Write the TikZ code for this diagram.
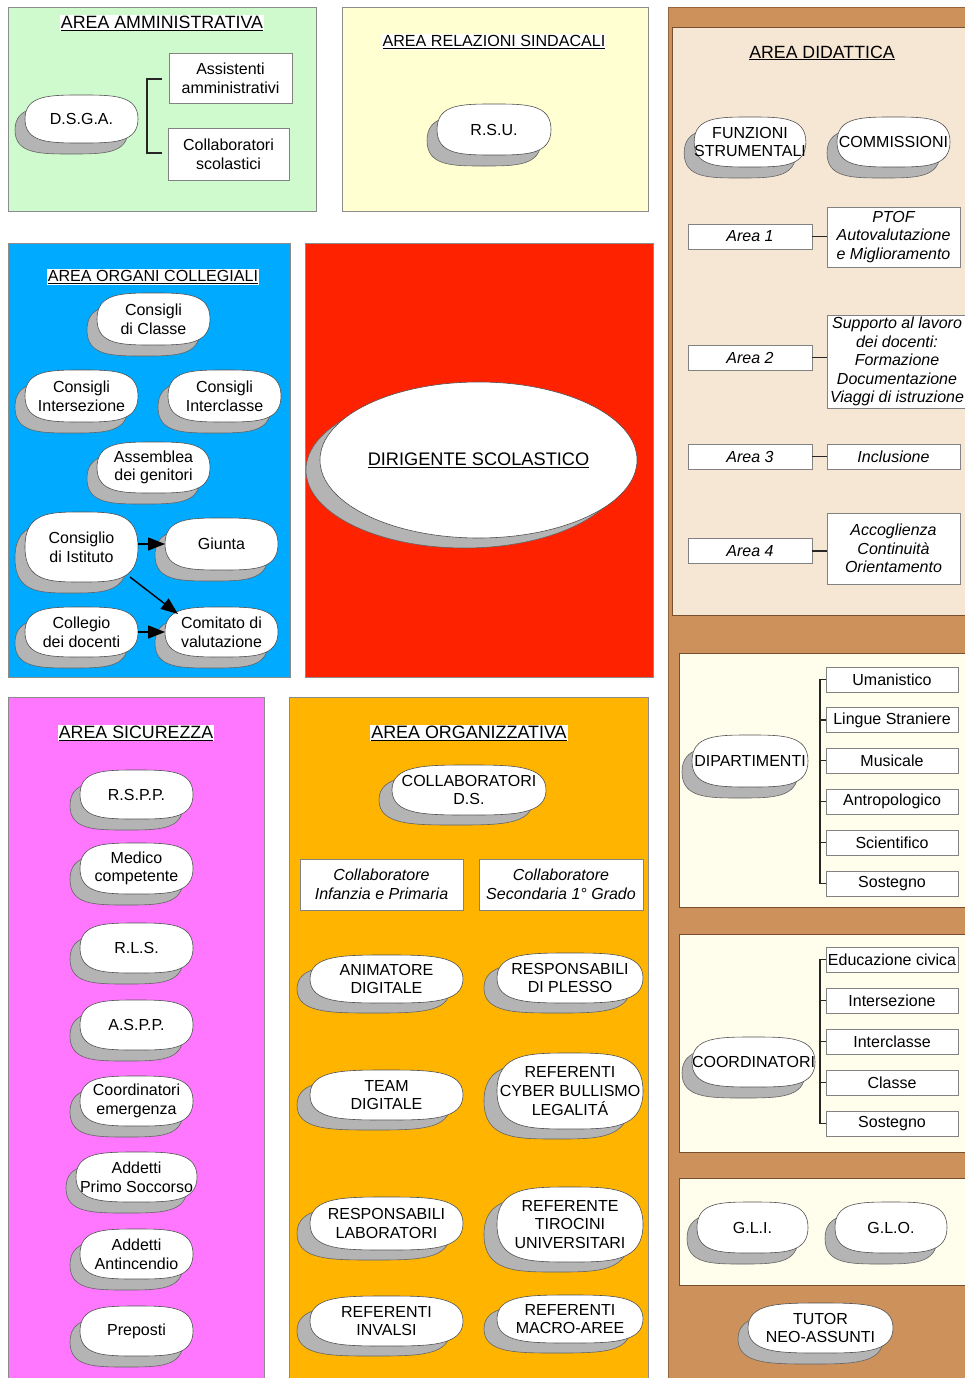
\documentclass[tikz,border=0pt]{standalone}
\usepackage{fontspec}
\setmainfont{Liberation Sans}
\usetikzlibrary{shadows,shapes.geometric,arrows.meta,calc}

\newdimen\cuXa \newdimen\cuYa \newdimen\cuXb \newdimen\cuYb
\newdimen\cuXm \newdimen\cuYm \newdimen\cuXl \newdimen\cuXr \newdimen\cuQ
\makeatletter
\pgfdeclareshape{cushion}{%
  \inheritsavedanchors[from=rectangle]%
  \inheritanchorborder[from=rectangle]%
  \inheritanchor[from=rectangle]{center}%
  \inheritanchor[from=rectangle]{north}%
  \inheritanchor[from=rectangle]{south}%
  \inheritanchor[from=rectangle]{east}%
  \inheritanchor[from=rectangle]{west}%
  \inheritanchor[from=rectangle]{north east}%
  \inheritanchor[from=rectangle]{north west}%
  \inheritanchor[from=rectangle]{south east}%
  \inheritanchor[from=rectangle]{south west}%
  \backgroundpath{%
    \southwest \cuXa=\pgf@x \cuYa=\pgf@y
    \northeast \cuXb=\pgf@x \cuYb=\pgf@y
    \cuXm=.5\cuXa \advance\cuXm by .5\cuXb
    \cuYm=.5\cuYa \advance\cuYm by .5\cuYb
    \cuQ=\cuXb \advance\cuQ by -\cuXa \cuQ=.22\cuQ
    \cuXl=\cuXa \advance\cuXl by \cuQ
    \cuXr=\cuXb \advance\cuXr by -\cuQ
    \pgfpathmoveto{\pgfqpoint{\cuXa}{\cuYm}}%
    \pgfpathcurveto{\pgfqpoint{\cuXa}{\cuYb}}{\pgfqpoint{\cuXl}{\cuYb}}{\pgfqpoint{\cuXm}{\cuYb}}%
    \pgfpathcurveto{\pgfqpoint{\cuXr}{\cuYb}}{\pgfqpoint{\cuXb}{\cuYb}}{\pgfqpoint{\cuXb}{\cuYm}}%
    \pgfpathcurveto{\pgfqpoint{\cuXb}{\cuYa}}{\pgfqpoint{\cuXr}{\cuYa}}{\pgfqpoint{\cuXm}{\cuYa}}%
    \pgfpathcurveto{\pgfqpoint{\cuXl}{\cuYa}}{\pgfqpoint{\cuXa}{\cuYa}}{\pgfqpoint{\cuXa}{\cuYm}}%
    \pgfpathclose
  }%
}
\makeatother

\definecolor{cgreen}{RGB}{206,250,206}
\definecolor{cyellow}{RGB}{255,255,210}
\definecolor{cblue}{RGB}{0,170,255}
\definecolor{cred}{RGB}{255,34,0}
\definecolor{cpink}{RGB}{255,119,255}
\definecolor{corange}{RGB}{255,180,0}
\definecolor{ctan}{RGB}{205,145,92}
\definecolor{ctanline}{RGB}{150,100,60}
\definecolor{clinen}{RGB}{246,231,213}
\definecolor{ccream}{RGB}{255,253,236}
\definecolor{pgray}{RGB}{140,140,140}
\definecolor{shgray}{RGB}{180,180,180}
\definecolor{shline}{RGB}{100,100,100}
\definecolor{cgr}{RGB}{80,80,80}
\definecolor{bgr}{RGB}{130,130,130}

\newcommand\fsz{\fontsize{16}{18.6}\selectfont}
\newcommand\tsz[1]{\fontsize{#1}{20}\selectfont}

\tikzset{
  every node/.style={font=\fsz},
  panel/.style={fill=#1, draw=pgray, line width=0.8pt},
  cush/.style={shape=cushion, draw=cgr, line width=0.6pt, fill=white, inner sep=0pt,
    outer sep=0pt, align=center,
    copy shadow={shadow xshift=-10pt, shadow yshift=-11pt, fill=shgray, draw=shline, line width=0.6pt}},
  cusho/.style={shape=cushion, draw=cgr, line width=0.6pt, fill=white, inner sep=0pt,
    outer sep=0pt, align=center,
    copy shadow={shadow xshift=-13pt, shadow yshift=-10pt, fill=shgray, draw=shline, line width=0.6pt}},
  cw/.style 2 args={minimum width=#1pt, minimum height=#2pt},
  box/.style={draw=bgr, fill=white, line width=0.7pt, inner sep=0pt, outer sep=0pt, align=center},
  ibox/.style={box, font=\fsz\itshape},
  ttl/.style={fill=white, inner sep=1pt, font=\tsz{#1}},
  line/.style={line width=1.3pt, draw=black!85},
  arr/.style={-{Triangle[length=17pt,width=13pt]}, line width=1.4pt, draw=black}
}

\begin{document}
\begin{tikzpicture}[x=1pt,y=-1pt]
\useasboundingbox (0,0) rectangle (964,1378);
\fill[white] (0,0) rectangle (964,1378);

% ---------- panels ----------
\path[panel=cgreen] (8,7) rectangle (316,211);
\path[panel=cyellow] (342,7) rectangle (648,211);
\path[panel=cblue] (8,243) rectangle (290,677);
\path[panel=cred] (305,243) rectangle (653,677);
\path[panel=cpink] (8,697) rectangle (264,1390);
\path[panel=corange] (289,697) rectangle (648,1390);
\path[fill=ctan, draw=ctanline, line width=0.8pt] (668,7) rectangle (975,1390);
\path[fill=clinen, draw=ctanline!80!black, line width=0.8pt] (672,27) rectangle (975,615);
\path[fill=ccream, draw=ctanline!80!black, line width=0.8pt] (679,653) rectangle (975,907);
\path[fill=ccream, draw=ctanline!80!black, line width=0.8pt] (679,934) rectangle (975,1152);
\path[fill=ccream, draw=ctanline!80!black, line width=0.8pt] (679,1178) rectangle (975,1285);

% ---------- AREA AMMINISTRATIVA ----------
\node[ttl=17.8] (tamm) at (162,23) {\underline{AREA AMMINISTRATIVA}};
\node[cush, cw={113}{48}] (dsga) at (81.5,119) {D.S.G.A.};
\node[box, cw={123}{50}] (assist) at (230.5,78) {Assistenti\\amministrativi};
\node[box, cw={121}{52}] (collsc) at (228.5,154) {Collaboratori\\scolastici};
\draw[line] ($(assist.west)+(-7,1)$) -- ($(assist.west)+(-22,1)$) |- ($(collsc.west)+(-6,-1)$);

% ---------- AREA RELAZIONI SINDACALI ----------
\node[ttl=16.1] (trel) at (494,42) {\underline{AREA RELAZIONI SINDACALI}};
\node[cush, cw={114}{51}] (rsu) at (494,129.5) {R.S.U.};

% ---------- AREA ORGANI COLLEGIALI ----------
\node[ttl=16.1] (torg) at (153,277) {\underline{AREA ORGANI COLLEGIALI}};
\node[cush, cw={113}{52}] (cdc) at (153.5,319) {Consigli\\di Classe};
\node[cush, cw={113}{52}] (cint) at (81.5,396) {Consigli\\Intersezione};
\node[cush, cw={113}{52}] (ccl) at (224.5,396) {Consigli\\Interclasse};
\node[cush, cw={113}{51}] (asg) at (153.5,467.5) {Assemblea\\dei genitori};
\node[cush, cw={113}{70}] (ci) at (81.5,547) {Consiglio\\di Istituto};
\node[cush, cw={113}{52}] (giu) at (221.5,544) {Giunta};
\node[cush, cw={113}{50}] (colg) at (81.5,632) {Collegio\\dei docenti};
\node[cush, cw={113}{50}] (com) at (221.5,632) {Comitato di\\valutazione};
\draw[arr] (ci.east |- giu.west) -- (giu.west);
\draw[arr] ($(ci.south east)+(-8,-5)$) -- ($(com.north west)+(13,7)$);
\draw[arr] (colg.east) -- (com.west);

% ---------- DIRIGENTE ----------
\node[ellipse, draw=cgr, line width=0.6pt, fill=white, inner sep=0pt,
  minimum width=317pt, minimum height=156pt,
  copy shadow={shadow xshift=-14pt, shadow yshift=-10pt, fill=shgray, draw=shline, line width=0.6pt}]
  (ds) at (478.5,460) {\fontsize{18.2}{21}\selectfont\underline{DIRIGENTE SCOLASTICO}};

% ---------- AREA SICUREZZA ----------
\node[ttl=17.8] (tsic) at (136,733) {\underline{AREA SICUREZZA}};
\node[cush, cw={113}{49}] (rspp) at (136.5,794.5) {R.S.P.P.};
\node[cush, cw={113}{51}] (med) at (136.5,868.5) {Medico\\competente};
\node[cush, cw={113}{50}] (rls) at (136.5,948) {R.L.S.};
\node[cush, cw={113}{50}] (aspp) at (136.5,1025) {A.S.P.P.};
\node[cush, cw={113}{50}] (cem) at (136.5,1101) {Coordinatori\\emergenza};
\node[cush, cw={121}{50}] (aps) at (136.5,1177) {Addetti\\Primo Soccorso};
\node[cush, cw={113}{50}] (aant) at (136.5,1254) {Addetti\\Antincendio};
\node[cush, cw={113}{50}] (prep) at (136.5,1331) {Preposti};

% ---------- AREA ORGANIZZATIVA ----------
\node[ttl=17.9] (torgz) at (469,733) {\underline{AREA ORGANIZZATIVA}};
\node[cusho, cw={154}{50}] (cds) at (469,790) {COLLABORATORI\\D.S.};
\node[ibox, cw={163}{51}] (cinf) at (381.5,884.5) {Collaboratore\\Infanzia e Primaria};
\node[ibox, cw={164}{51}] (csec) at (561,884.5) {Collaboratore\\Secondaria 1° Grado};
\node[cusho, cw={153}{48}] (anim) at (386.5,979) {ANIMATORE\\DIGITALE};
\node[cusho, cw={146}{50}] (rdp) at (570,978) {RESPONSABILI\\DI PLESSO};
\node[cusho, cw={153}{50}] (team) at (386.5,1095) {TEAM\\DIGITALE};
\node[cusho, cw={146}{76}] (cyb) at (570,1091) {REFERENTI\\CYBER BULLISMO\\LEGALITÁ};
\node[cusho, cw={153}{53}] (rlab) at (386.5,1223.5) {RESPONSABILI\\LABORATORI};
\node[cusho, cw={146}{75}] (tir) at (570,1224.5) {REFERENTE\\TIROCINI\\UNIVERSITARI};
\node[cusho, cw={153}{50}] (inv) at (386.5,1321) {REFERENTI\\INVALSI};
\node[cusho, cw={146}{48}] (macro) at (570,1319) {REFERENTI\\MACRO-AREE};

% ---------- AREA DIDATTICA ----------
\node[ttl=17.7, fill=clinen] (tdid) at (822,53) {\underline{AREA DIDATTICA}};
\node[cush, cw={110}{50}] (fs) at (750,142) {FUNZIONI\\STRUMENTALI};
\node[cush, cw={113}{50}] (comm) at (893.5,142) {COMMISSIONI};
\node[ibox, cw={124}{25}] (a1) at (750,236.5) {Area 1};
\node[ibox, cw={133}{60}] (ptof) at (893.5,237) {PTOF\\Autovalutazione\\e Miglioramento};
\node[ibox, cw={124}{25}] (a2) at (750,357.5) {Area 2};
\node[ibox, cw={140}{93}] (sup) at (897,361.5) {Supporto al lavoro\\dei docenti:\\Formazione\\Documentazione\\Viaggi di istruzione};
\node[ibox, cw={124}{25}] (a3) at (750,456.5) {Area 3};
\node[ibox, cw={133}{25}] (incl) at (893.5,456.5) {Inclusione};
\node[ibox, cw={124}{25}] (a4) at (750,551) {Area 4};
\node[ibox, cw={133}{71}] (acc) at (893.5,548.5) {Accoglienza\\Continuità\\Orientamento};
\draw[line] (a1.east) -- (a1.east -| ptof.west);
\draw[line] (a2.east) -- (a2.east -| sup.west);
\draw[line] (a3.east) -- (incl.west);
\draw[line] (a4.east) -- (a4.east -| acc.west);

% ---------- DIPARTIMENTI ----------
\node[cush, cw={116}{52}] (dip) at (750,761) {DIPARTIMENTI};
\node[box, cw={132}{25}] (d1) at (892,679.5) {Umanistico};
\node[box, cw={132}{25}] (d2) at (892,720) {Lingue Straniere};
\node[box, cw={132}{25}] (d3) at (892,760.5) {Musicale};
\node[box, cw={132}{25}] (d4) at (892,801.5) {Antropologico};
\node[box, cw={132}{25}] (d5) at (892,842.5) {Scientifico};
\node[box, cw={132}{25}] (d6) at (892,883.5) {Sostegno};
\draw[line] (d1.west) -- ++(-6,0) |- (d6.west);
\foreach \n in {d2,d3,d4,d5} \draw[line] (\n.west) -- ++(-6,0);

% ---------- COORDINATORI ----------
\node[cush, cw={123}{50}] (coo) at (753.5,1062) {COORDINATORI};
\node[box, cw={132}{25}] (k1) at (892,959.5) {Educazione civica};
\node[box, cw={132}{25}] (k2) at (892,1000.5) {Intersezione};
\node[box, cw={132}{25}] (k3) at (892,1041.5) {Interclasse};
\node[box, cw={132}{25}] (k4) at (892,1082.5) {Classe};
\node[box, cw={132}{25}] (k5) at (892,1123.5) {Sostegno};
\draw[line] (k1.west) -- ++(-6,0) |- (k5.west);
\foreach \n in {k2,k3,k4} \draw[line] (\n.west) -- ++(-6,0);

% ---------- G.L.I. / G.L.O. / TUTOR ----------
\node[cush, cw={111}{51}] (gli) at (752.5,1227.5) {G.L.I.};
\node[cush, cw={112}{51}] (glo) at (891,1227.5) {G.L.O.};
\node[cush, cw={145}{50}] (tutor) at (820.5,1328) {TUTOR\\NEO-ASSUNTI};
\end{tikzpicture}
\end{document}
